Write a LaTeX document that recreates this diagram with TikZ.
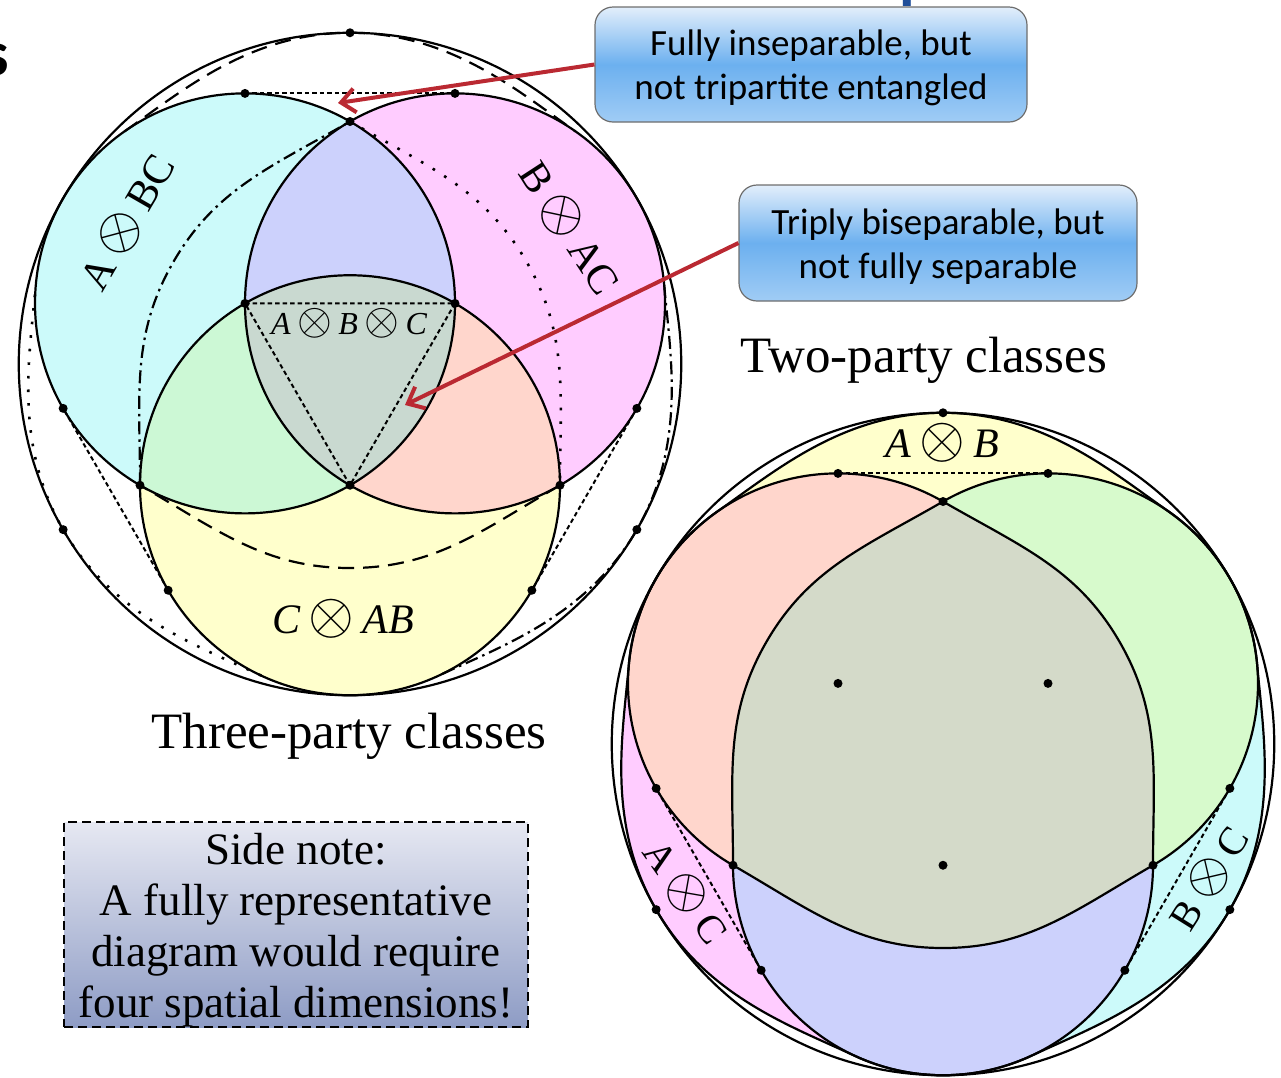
\RequirePackage{fix-cm}
\documentclass[tikz,border=0pt]{standalone}
\usepackage{fontspec}
\setmainfont{Liberation Serif}
\newfontfamily\calloutFont{Carlito}
\usetikzlibrary{arrows.meta}

\begin{document}
\begin{tikzpicture}[x=1pt, y=-1pt,
    setLine/.style={line width=2.2pt},
    tangentLine/.style={line width=2pt, dash pattern=on 4.5pt off 3pt},
    callout/.style={draw=calloutBorder, line width=1.2pt, rounded corners=18pt,
        top color=calloutTop, bottom color=calloutBottom, middle color=calloutMid,
        align=center, inner sep=0pt, font=\calloutFont\fontsize{37}{44}\selectfont},
    classLabel/.style={inner sep=0pt, font=\fontsize{42}{42}\selectfont},
    classTitle/.style={inner sep=0pt, font=\fontsize{51}{51}\selectfont},
    redArrow/.style={draw=arrowRed, line width=4pt, -{Straight Barb[length=14pt, width=24pt]}}]

    % Define the colours
    \definecolor{cyanFill}{HTML}{CCFAFA}
    \definecolor{magentaFill}{HTML}{FFCCFF}
    \definecolor{yellowFill}{HTML}{FFFFCC}
    \definecolor{blueFill}{HTML}{CCD1FC}
    \definecolor{greenFill}{HTML}{CCF8D5}
    \definecolor{salmonFill}{HTML}{FFD6CC}
    \definecolor{greyFill}{HTML}{C9D9D0}
    \definecolor{greenFillTwo}{HTML}{D7FACC}
    \definecolor{greyFillTwo}{HTML}{D4DAC9}
    \definecolor{calloutTop}{HTML}{E2EEFB}
    \definecolor{calloutMid}{HTML}{6CB0EF}
    \definecolor{calloutBottom}{HTML}{A0CCF5}
    \definecolor{calloutBorder}{HTML}{6E6E6E}
    \definecolor{noteTop}{HTML}{E6E8F2}
    \definecolor{noteBottom}{HTML}{8E9CC5}
    \definecolor{arrowRed}{HTML}{BA2932}
    \definecolor{titleBlue}{HTML}{1F4E9A}

    \useasboundingbox (0,0) rectangle (1281,1077);

    % Define the geometry (pixel units, y pointing down)
    \def\rad{210}
    \def\ctrDist{121.24}
    \def\outerRad{331.24}
    \def\tensorSign{\hspace{0.2em}\scalebox{1.4}{$\otimes$}\hspace{0.2em}}

    % Closed boundary of one hull, turned by #1 degrees
    \def\hullPath#1{(#1+270:331.24) .. controls (#1+286.8:346) and (#1+301.64:320.4) .. (#1+314.1:323.96)
        arc[start angle=#1+305, end angle=#1+420, radius=\rad]
        .. controls (#1+51.52:212.3) and (#1+67.38:221) .. (#1+90:204)
        .. controls (#1+112.62:221) and (#1+128.48:212.3) .. (#1+150:242.49)
        arc[start angle=#1+120, end angle=#1+235, radius=\rad]
        .. controls (#1+238.36:320.4) and (#1+253.2:346) .. (#1+270:331.24) -- cycle}
    % The parts of that boundary that leave the circles
    \def\hullTop#1{(#1+225.9:323.96) .. controls (#1+238.36:320.4) and (#1+253.2:346) .. (#1+270:331.24)
        .. controls (#1+286.8:346) and (#1+301.64:320.4) .. (#1+314.1:323.96)}
    \def\hullBottom#1{(#1+30:242.49) .. controls (#1+51.52:212.3) and (#1+67.38:221) .. (#1+90:204)
        .. controls (#1+112.62:221) and (#1+128.48:212.3) .. (#1+150:242.49)}

    % Cut-off title above the picture
    \node[anchor=base east, inner sep=0pt, font=\calloutFont\bfseries\fontsize{64}{64}\selectfont] (titleTail) at (9,75) {s};
    \node[anchor=base west, inner sep=0pt, text=titleBlue, font=\calloutFont\bfseries\fontsize{64}{64}\selectfont] (titleHead) at (899,-4) {p};

    % ---------- Three-party classes ----------
    \begin{scope}[shift={(350,364)}]
        \coordinate (bcCentre) at (210:\ctrDist);
        \coordinate (acCentre) at (330:\ctrDist);
        \coordinate (abCentre) at (90:\ctrDist);

        % Fill the three biseparable sets and their overlaps
        \fill[cyanFill] (bcCentre) circle[radius=\rad];
        \fill[magentaFill] (acCentre) circle[radius=\rad];
        \fill[yellowFill] (abCentre) circle[radius=\rad];
        \begin{scope}
            \clip (acCentre) circle[radius=\rad];
            \fill[salmonFill] (abCentre) circle[radius=\rad];
        \end{scope}
        \begin{scope}
            \clip (bcCentre) circle[radius=\rad];
            \fill[blueFill] (acCentre) circle[radius=\rad];
            \fill[greenFill] (abCentre) circle[radius=\rad];
            \clip (acCentre) circle[radius=\rad];
            \fill[greyFill] (abCentre) circle[radius=\rad];
        \end{scope}

        % Hulls of pairs of sets
        \draw[setLine, dash pattern=on 16pt off 9pt] \hullTop{0} \hullBottom{0};
        \draw[setLine, dash pattern=on 13pt off 5pt on 2.5pt off 5pt] \hullTop{120} \hullBottom{120};
        \draw[setLine, line width=2.6pt, dash pattern=on 2.6pt off 11pt] \hullTop{240} \hullBottom{240};

        % Outlines
        \draw[setLine] (0,0) circle[radius=\outerRad];
        \foreach \c in {bcCentre,acCentre,abCentre}
            \draw[setLine] (\c) circle[radius=\rad];

        % Tangents and the separable triangle
        \foreach \a in {30,150,270}
            \draw[tangentLine] (\a-21.21:290.28) -- (\a+21.21:290.28);
        \draw[tangentLine] (bcCentre) -- (acCentre) -- (abCentre) -- cycle;

        % Marked points
        \foreach \a in {30,150,270} {
            \fill (\a:\outerRad) circle[radius=4.5];
            \fill (\a:242.49) circle[radius=4.5];
            \fill (\a-21.21:290.28) circle[radius=4.5];
            \fill (\a+21.21:290.28) circle[radius=4.5];
            \fill (\a+180:\ctrDist) circle[radius=4.5];
        }
    \end{scope}

    % ---------- Two-party classes ----------
    \begin{scope}[shift={(943,744)}]
        % Fill the three sets and their overlaps
        \fill[yellowFill] \hullPath{0};
        \fill[magentaFill] \hullPath{240};
        \fill[cyanFill] \hullPath{120};
        \begin{scope}
            \clip \hullPath{240};
            \fill[blueFill] \hullPath{120};
        \end{scope}
        \begin{scope}
            \clip \hullPath{0};
            \fill[salmonFill] \hullPath{240};
            \fill[greenFillTwo] \hullPath{120};
            \clip \hullPath{240};
            \fill[greyFillTwo] \hullPath{120};
        \end{scope}

        % Outlines
        \draw[setLine] (0,0) circle[radius=\outerRad];
        \foreach \r in {0,120,240}
            \draw[setLine] \hullPath{\r};

        % Tangents
        \foreach \a in {30,150,270}
            \draw[tangentLine] (\a-21.21:290.28) -- (\a+21.21:290.28);

        % Marked points
        \foreach \a in {30,150,270} {
            \fill (\a:\outerRad) circle[radius=4.5];
            \fill (\a:242.49) circle[radius=4.5];
            \fill (\a-21.21:290.28) circle[radius=4.5];
            \fill (\a+21.21:290.28) circle[radius=4.5];
            \fill (\a+180:\ctrDist) circle[radius=4.5];
        }
    \end{scope}

    % Set labels
    \node[classLabel, rotate=60] (bcLabel) at (127,222) {A\tensorSign BC};
    \node[classLabel, rotate=-57] (acLabel) at (570,228) {B\tensorSign AC};
    \node[classLabel, font=\itshape\fontsize{32}{32}\selectfont] (sepLabel) at (349,323) {A\tensorSign B\tensorSign C};
    \node[classLabel, font=\itshape\fontsize{42}{42}\selectfont] (abLabel) at (343,619) {C\tensorSign AB};
    \node[classLabel, font=\itshape\fontsize{42}{42}\selectfont] (abTwoLabel) at (942,443) {A\tensorSign B};
    \node[classLabel, rotate=-55, font=\fontsize{40}{40}\selectfont] (acTwoLabel) at (686,892) {A\tensorSign C};
    \node[classLabel, rotate=58, font=\fontsize{40}{40}\selectfont] (bcTwoLabel) at (1209,878) {B\tensorSign C};

    % Titles
    \node[classTitle] (threeTitle) at (349,736) {Three-party classes};
    \node[classTitle] (twoTitle) at (924,360) {Two-party classes};

    % Callouts
    \node[callout, minimum width=432pt, minimum height=115pt] (inseparableBox) at (811,64.5)
        {\rule{0pt}{33pt}Fully inseparable, but\\not tripartite entangled};
    \node[callout, minimum width=398pt, minimum height=116pt] (biseparableBox) at (938,243)
        {\rule{0pt}{33pt}Triply biseparable, but\\not fully separable};
    \coordinate (inseparableTip) at (338,103);
    \coordinate (biseparableTip) at (405,405);
    \draw[redArrow] (inseparableBox.west) -- (inseparableTip);
    \draw[redArrow] (biseparableBox.west) -- (biseparableTip);

    % Side note
    \node[draw, line width=1.8pt, dash pattern=on 9pt off 5pt, top color=noteTop, bottom color=noteBottom,
        minimum width=464pt, minimum height=205pt, inner sep=0pt, align=center,
        font=\fontsize{45}{51}\selectfont] (sideNote) at (296,924.5)
        {\rule{0pt}{42pt}Side note:\\A fully representative\\diagram would require\\four spatial dimensions!};

\end{tikzpicture}
\end{document}
